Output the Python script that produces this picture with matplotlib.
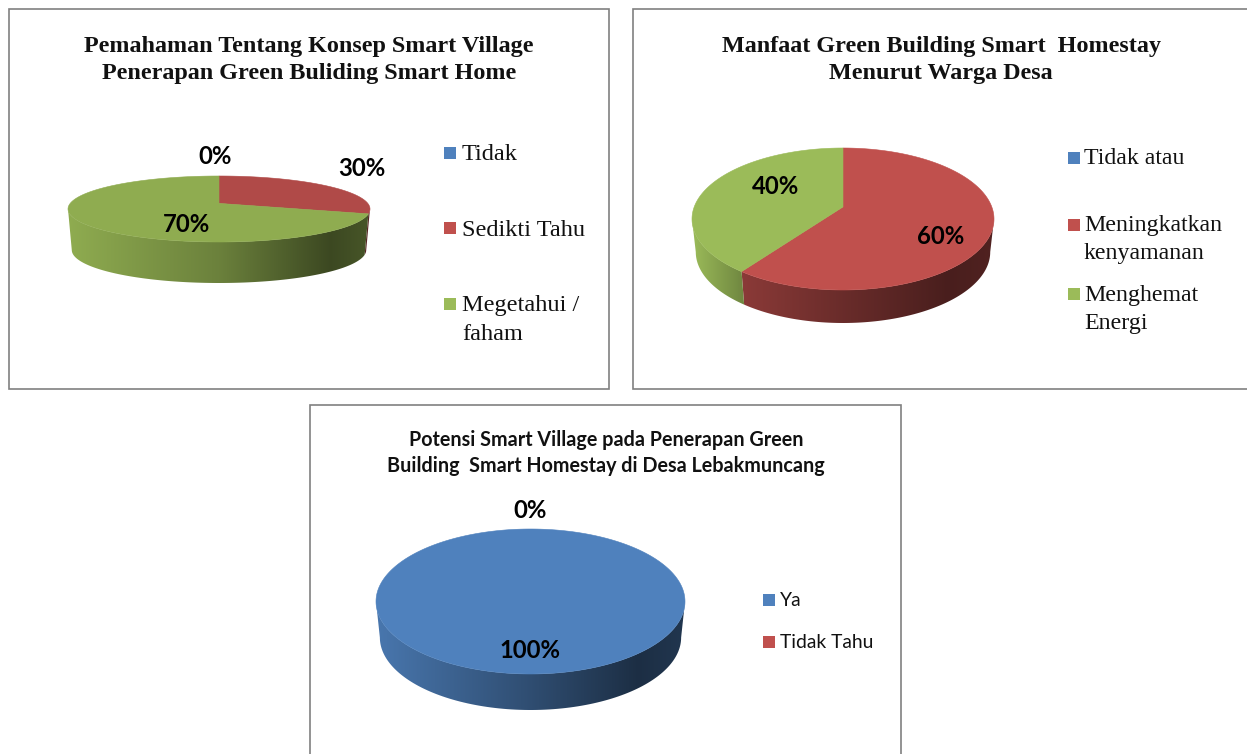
import numpy as np
import matplotlib
matplotlib.use('Agg')
import matplotlib.pyplot as plt
from matplotlib.colors import LinearSegmentedColormap, to_rgb
from matplotlib.patches import Polygon, Rectangle

# data
titles_1 = "Pemahaman Tentang Konsep Smart Village\nPenerapan Green Buliding Smart Home"
labels_1 = ["Tidak", "Sedikti Tahu", "Megetahui /\nfaham"]
values_1 = [0, 30, 70]

titles_2 = "Manfaat Green Building Smart  Homestay\nMenurut Warga Desa"
labels_2 = ["Tidak atau", "Meningkatkan\nkenyamanan", "Menghemat\nEnergi"]
values_2 = [0, 60, 40]

titles_3 = "Potensi Smart Village pada Penerapan Green\nBuilding  Smart Homestay di Desa Lebakmuncang"
labels_3 = ["Ya", "Tidak Tahu"]
values_3 = [100, 0]

BLUE, RED, GREEN = '#4f81bd', '#c0504d', '#9bbb59'
K = 0.17  # perspective of the pie plate

W, H = 1247, 754
fig = plt.figure(figsize=(W / 100, H / 100), dpi=100)
ax = fig.add_axes([0, 0, 1, 1])
ax.set_xlim(0, W)
ax.set_ylim(H, 0)
ax.axis('off')


def project(angles, cx, top, rx, ry):
    # angle is clockwise from 12 o'clock, the circle is tilted with perspective
    a = np.radians(angles)
    d = 1 + K * np.cos(a)
    px = np.sin(a) / d
    py = np.cos(a) / d
    xmax = 1 / np.sqrt(1 - K ** 2)
    ytop = 1 / (1 + K)
    ybot = -1 / (1 - K)
    return cx + rx * px / xmax, top + (ytop - py) / (ytop - ybot) * 2 * ry


def apex_y(top, ry):
    ytop = 1 / (1 + K)
    ybot = -1 / (1 - K)
    return top + ytop / (ytop - ybot) * 2 * ry


def draw_pie(values, colors, stops, cx, top, rx, ry, depth):
    front_a = np.degrees(np.arccos(-K))
    front_b = 360 - front_a
    start = 0
    for v, col in zip(values, colors):
        if v == 0:
            continue
        end = start + v * 3.6
        # side wall
        a0, a1 = max(start, front_a), min(end, front_b)
        if a1 > a0:
            t = np.linspace(a0, a1, 120)
            x, y = project(t, cx, top, rx, ry)
            xb = cx + (x - cx) * 0.975
            pts = np.vstack([np.c_[x, y], np.c_[xb, y + depth][::-1]])
            poly = Polygon(pts, closed=True, fc='none', ec='none', transform=ax.transData)
            ax.add_patch(poly)
            base = np.array(to_rgb(col))
            cmap = LinearSegmentedColormap.from_list(
                'w', [(p, tuple(base * f)) for p, f in stops])
            im = ax.imshow(np.linspace(0, 1, 256).reshape(1, -1), cmap=cmap, aspect='auto',
                           extent=[cx - rx, cx + rx, top + 2 * ry + depth, top], zorder=2)
            im.set_clip_path(poly)
        start = end
    # top face goes over the walls
    start = 0
    for v, col in zip(values, colors):
        if v == 0:
            continue
        end = start + v * 3.6
        t = np.linspace(start, end, 240)
        x, y = project(t, cx, top, rx, ry)
        if v < 100:
            x = np.r_[cx, x]
            y = np.r_[apex_y(top, ry), y]
        ax.add_patch(Polygon(np.c_[x, y], closed=True, fc=col, ec=col, lw=0.4, zorder=3))
        start = end


def draw_legend(labels, colors, xs, xt, ys, size, family, box, dy=0):
    for lab, col, y in zip(labels, colors, ys):
        ax.add_patch(Rectangle((xs, y - box / 2), box, box, fc=col, ec='none', zorder=4))
        for i, line in enumerate(lab.split('\n')):
            ax.text(xt, y + dy + i * 28, line, fontsize=size, family=family,
                    va='center', ha='left', color='#111111')


# frames
frame = dict(fc='white', ec='#808080', lw=1.2, zorder=1)
ax.add_patch(Rectangle((9, 9), 600, 380, **frame))
ax.add_patch(Rectangle((633, 9), 640, 380, **frame))
ax.add_patch(Rectangle((310, 405), 591, 380, **frame))

serif = 'Liberation Serif'
ax.text(309, 60, titles_1, fontsize=17.4, family=serif, weight='bold', ha='center', va='center',
        linespacing=1.42, color='#111111')
ax.text(941, 60, titles_2, fontsize=17.4, family=serif, weight='bold', ha='center', va='center',
        linespacing=1.42, color='#111111')
ax.text(606, 453, titles_3, fontsize=14.2, family='Lato', weight='bold', ha='center', va='center',
        linespacing=1.38, color='#111111')

# pies
draw_pie(values_1, [BLUE, '#b04a48', '#8fac50'],
         [(0, 1.0), (0.5, 0.75), (0.87, 0.42), (1, 0.5)], 219, 176, 151, 33, 41)
draw_pie(values_2, [BLUE, RED, GREEN],
         [(0, 1.0), (0.17, 0.72), (0.5, 0.55), (0.85, 0.38), (1, 0.42)], 843, 148, 151, 71, 33)
draw_pie(values_3, [BLUE, RED],
         [(0, 0.92), (0.5, 0.6), (0.85, 0.36), (1, 0.42)], 530.5, 529, 154.5, 72.5, 36)
ax.set_xlim(0, W)
ax.set_ylim(H, 0)

# data labels
lab = dict(fontsize=17.2, family='Lato', weight='bold', ha='center', va='center', color='black', zorder=5)
for v, (x, y) in zip(values_1, [(215, 157), (362, 169), (186, 224)]):
    ax.text(x, y, f"{v}%", **lab)
for v, (x, y) in zip(values_2[1:], [(941, 236), (776, 186)]):
    ax.text(x, y, f"{v}%", **lab)
for v, (x, y) in zip(values_3, [(530, 650), (530, 510)]):
    ax.text(x, y, f"{v}%", **lab)

# legends
draw_legend(labels_1, [BLUE, RED, GREEN], 444, 462, [153, 228, 304], 17.5, serif, 12, dy=2)
draw_legend(labels_2, [BLUE, RED, GREEN], 1068, 1084, [158, 225, 294], 17.2, serif, 12, dy=1)
draw_legend(labels_3, [BLUE, RED], 763, 780, [600, 642], 13.9, 'Lato', 12)

fig.savefig('out.png', dpi=100)
